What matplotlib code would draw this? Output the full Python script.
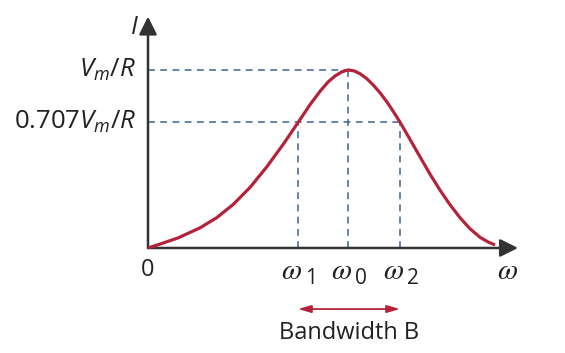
import numpy as np
import matplotlib
matplotlib.use('Agg')
import matplotlib.pyplot as plt

plt.rcParams['font.family'] = ['Open Sans', 'DejaVu Sans']
plt.rcParams['mathtext.fontset'] = 'custom'
plt.rcParams['mathtext.rm'] = 'Open Sans'
plt.rcParams['mathtext.it'] = 'Open Sans:italic'

# resonance curve (omega in arbitrary units, I relative to Vm/R)
omega = [0.0, 0.137, 0.303, 0.52, 0.687, 0.853, 1.02, 1.187, 1.353, 1.503,
         1.62, 1.72, 1.80, 1.87, 1.94, 2.0,
         2.06, 2.12, 2.19, 2.253, 2.32, 2.387, 2.453, 2.52, 2.62, 2.72, 2.82,
         2.92, 3.02, 3.12, 3.22, 3.32, 3.40, 3.47]
current = [0.0, 0.025, 0.057, 0.113, 0.170, 0.245, 0.340, 0.455, 0.583, 0.707,
           0.805, 0.880, 0.932, 0.966, 0.990, 1.0,
           0.995, 0.979, 0.950, 0.915, 0.872, 0.822, 0.767, 0.707, 0.610, 0.512, 0.415,
           0.325, 0.243, 0.170, 0.108, 0.060, 0.034, 0.017]

w1, w0, w2 = 1.50, 2.0, 2.52
peak = 1.0
half_power = 0.707
freq_labels = ['1', '0', '2']

red = '#b3243a'
blue = '#3b6391'
axis_c = '#333333'
txt_c = '#222222'

fig = plt.figure(figsize=(5.65, 3.53), dpi=100)
ax = fig.add_axes([0, 0, 1, 1])
ax.set_xlim(-1.48, 4.17)
ax.set_ylim(-0.590, 1.393)
ax.axis('off')

# dashed guide lines
dash = dict(color=blue, lw=1.1, dashes=(4.5, 3.5))
ax.plot([0, w0], [peak, peak], **dash)
ax.plot([0, w2], [half_power, half_power], **dash)
for w, lev in [(w1, half_power), (w0, peak), (w2, half_power)]:
    ax.plot([w, w], [0, lev], **dash)

# axes with arrows
ap = dict(arrowstyle='-|>,head_length=0.6,head_width=0.3', color=axis_c, lw=1.8,
          shrinkA=0, shrinkB=0, mutation_scale=18)
ax.annotate('', xy=(3.70, 0), xytext=(0, 0), arrowprops=ap)
ax.annotate('', xy=(0, 1.30), xytext=(0, 0), arrowprops=ap)

ax.plot(omega, current, color=red, lw=2.3, solid_capstyle='butt', solid_joinstyle='round', zorder=3)

# bandwidth arrow
ax.annotate('', xy=(w2, -0.343), xytext=(w1, -0.343),
            arrowprops=dict(arrowstyle='<|-|>,head_length=0.55,head_width=0.16', color=red,
                            lw=1.3, shrinkA=0, shrinkB=0, mutation_scale=14))
ax.text((w1 + w2) / 2, -0.478, 'Bandwidth B', ha='center', va='center', fontsize=17, color=txt_c)

# labels
ax.text(-0.14, 1.24, '$I$', ha='center', va='center', fontsize=18, color=txt_c)
ax.text(-0.12, 1.0, '$V_m/R$', ha='right', va='center', fontsize=18.5, color=txt_c)
ax.text(-0.12, half_power, '0.707$V_m/R$', ha='right', va='center', fontsize=18.5, color=txt_c)
ax.text(0.0, -0.125, '0', ha='center', va='center', fontsize=17, color=txt_c)

for w, s in zip([w1, w0, w2], freq_labels):
    ax.text(w + 0.04, -0.13, r'$\omega$', ha='right', va='center', fontsize=21,
            math_fontfamily='stix', color=txt_c)
    ax.text(w + 0.07, -0.17, s, ha='left', va='center', fontsize=15, color=txt_c)
ax.text(3.60, -0.13, r'$\omega$', ha='center', va='center', fontsize=21,
        math_fontfamily='stix', color=txt_c)

fig.savefig('out.png', dpi=100)
